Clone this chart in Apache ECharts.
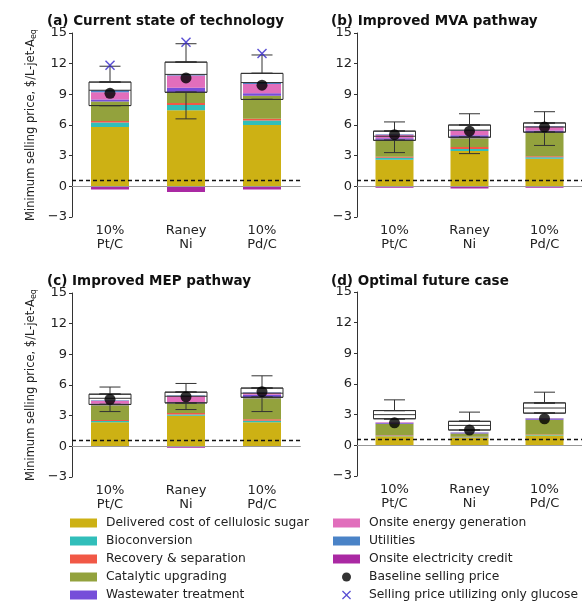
<!DOCTYPE html>
<html>
<head>
<meta charset="utf-8">
<script src="https://cdn.jsdelivr.net/npm/echarts@6/dist/echarts.min.js"></script>
<style>
html, body { margin: 0; padding: 0; background: #fff; }
#main { width: 582px; height: 603px; }
</style>
</head>
<body>
<div id="main"></div>
<script>
var catalysts = ['10%\nPt/C', 'Raney\nNi', '10%\nPd/C'];
var panelTitles = ['(a) Current state of technology', '(b) Improved MVA pathway',
                   '(c) Improved MEP pathway', '(d) Optimal future case'];
var yTicks = [-3, 0, 3, 6, 9, 12, 15];

// cost contributions, one row per panel (a..d), columns Pt/C, Raney Ni, Pd/C
var sugar      = [[5.8, 7.45, 6.0], [2.6, 3.45, 2.7], [2.35, 3.0, 2.35], [0.9, 0.75, 0.95]];
var bioconv    = [[0.45, 0.5, 0.45], [0.2, 0.2, 0.15], [0.12, 0.12, 0.15], [0.05, 0.05, 0.05]];
var recovery   = [[0.15, 0.2, 0.15], [0.1, 0.2, 0.1], [0.1, 0.15, 0.15], [0.05, 0.05, 0.05]];
var catalytic  = [[1.9, 1.0, 2.25], [1.65, 0.85, 2.3], [1.45, 0.95, 2.05], [1.1, 0.3, 1.45]];
var wastewater = [[0.2, 0.5, 0.25], [0.15, 0.3, 0.2], [0.15, 0.1, 0.35], [0.1, 0.07, 0.1]];
var energyGen  = [[0.7, 1.2, 0.9], [0.35, 0.45, 0.4], [0.3, 0.6, 0.2], [0.05, 0.03, 0.05]];
var utilities  = [[0.2, 0.1, 0.15], [0.05, 0.05, 0.05], [0.05, 0.05, 0.05], [0.02, 0.02, 0.02]];
var elecCredit = [[-0.3, -0.55, -0.3], [-0.15, -0.22, -0.13], [-0.06, -0.15, -0.06], [-0.02, -0.02, -0.02]];

// uncertainty ranges [min, q1, median, q3, max]
var ranges = [
    [[7.9, 7.9, 9.4, 10.2, 11.75], [6.6, 9.2, 10.95, 12.15, 13.95], [8.5, 8.5, 10.15, 11.05, 12.85]],
    [[3.3, 4.5, 4.9, 5.4, 6.3], [3.2, 4.8, 5.5, 6.0, 7.1], [4.0, 5.3, 5.8, 6.2, 7.3]],
    [[3.4, 4.1, 4.7, 5.1, 5.8], [3.6, 4.25, 4.9, 5.3, 6.15], [3.4, 4.8, 5.2, 5.7, 6.9]],
    [[2.6, 2.6, 3.0, 3.4, 4.45], [1.5, 1.5, 1.95, 2.35, 3.25], [3.15, 3.15, 3.65, 4.15, 5.2]]
];
var baseline = [[9.1, 10.6, 9.9], [5.05, 5.4, 5.8], [4.6, 4.85, 5.35], [2.2, 1.5, 2.6]];
var glucoseOnly = [11.85, 14.1, 13.0];   // only panel (a)
var jetPrice = 0.6;

var components = [
    {name: 'Delivered cost of cellulosic sugar', data: sugar, color: '#c9aa00'},
    {name: 'Bioconversion', data: bioconv, color: '#1fb8b4'},
    {name: 'Recovery & separation', data: recovery, color: '#f04a36'},
    {name: 'Catalytic upgrading', data: catalytic, color: '#8a9a2c'},
    {name: 'Wastewater treatment', data: wastewater, color: '#6a3fd6'},
    {name: 'Onsite energy generation', data: energyGen, color: '#de62b6'},
    {name: 'Utilities', data: utilities, color: '#3b78c2'},
    {name: 'Onsite electricity credit', data: elecCredit, color: '#a3179b'}
];

var xMark = 'path://M1,0 L5,4 L9,0 L10,1 L6,5 L10,9 L9,10 L5,6 L1,10 L0,9 L4,5 L0,1 Z';
var font = 'DejaVu Sans';

var gridPos = [
    {left: 72, top: 33}, {left: 357, top: 33},
    {left: 72, top: 293}, {left: 357, top: 292}
];
var titlePos = [
    {left: 42, top: 9}, {left: 326, top: 9},
    {left: 42, top: 269}, {left: 326, top: 269}
];

var grids = [], xAxes = [], yAxes = [], titles = [], series = [];

for (var p = 0; p < 4; p++) {
    grids.push({left: gridPos[p].left, top: gridPos[p].top, width: 228, height: 184});
    titles.push({
        text: panelTitles[p], left: titlePos[p].left, top: titlePos[p].top,
        textStyle: {fontFamily: font, fontSize: 13.5, fontWeight: 'bold', color: '#111'}
    });
    // visible axis for the bars, then hidden copies so each box layer sits alone on its axis
    var mainX = xAxes.length;
    xAxes.push({
        type: 'category', gridIndex: p, data: catalysts,
        axisLine: {lineStyle: {color: '#333', width: 1}},
        axisTick: {alignWithLabel: true, length: 3, lineStyle: {color: '#333'}},
        axisLabel: {fontFamily: font, fontSize: 13, lineHeight: 14, color: '#222', margin: 7}
    });
    for (var h = 0; h < 4; h++) {
        xAxes.push({type: 'category', gridIndex: p, data: catalysts, show: false});
    }
    yAxes.push({
        type: 'value', gridIndex: p, min: -3, max: 15, interval: 3,
        name: (p % 2 === 0) ? 'Minimum selling price, $/L-jet-A{s|eq}' : '',
        nameLocation: 'middle', nameGap: 34,
        nameTextStyle: {fontFamily: font, fontSize: 11.5, color: '#222',
            rich: {s: {fontFamily: font, fontSize: 8, color: '#222', padding: [5, 0, 0, 0]}}},
        axisLine: {show: true, lineStyle: {color: '#333', width: 1}},
        axisTick: {show: true, length: 3, lineStyle: {color: '#333'}},
        splitLine: {show: false},
        axisLabel: {fontFamily: font, fontSize: 13, color: '#222', margin: 5,
            formatter: function (v) { return String(v).replace('-', '\u2212'); }}
    });

    components.forEach(function (c, k) {
        var s = {
            type: 'bar', name: c.name, xAxisIndex: mainX, yAxisIndex: p,
            stack: 'cost' + p, barWidth: 38, data: c.data[p],
            itemStyle: {color: c.color, opacity: 0.92}
        };
        if (k === 0) {
            s.markLine = {
                silent: true, symbol: 'none', label: {show: false},
                data: [
                    {yAxis: 0, lineStyle: {color: '#999', width: 1, type: 'solid'}},
                    {yAxis: jetPrice, lineStyle: {color: '#111', width: 1.3, type: [4, 3]}}
                ]
            };
        }
        series.push(s);
    });

    var box = [], upper = [], lower = [];
    ranges[p].forEach(function (r) {
        box.push([r[1], r[1], r[2], r[3], r[3]]);
        upper.push([r[3], r[3], r[3], r[3], r[4]]);
        lower.push([r[0], r[1], r[1], r[1], r[1]]);
    });
    var boxStyle = {color: 'rgba(255,255,255,0)', borderColor: '#333', borderWidth: 1};
    series.push({type: 'boxplot', name: 'range', xAxisIndex: mainX + 1, yAxisIndex: p, z: 3,
        boxWidth: [42, 42], data: box, itemStyle: boxStyle});
    series.push({type: 'boxplot', name: 'range', xAxisIndex: mainX + 2, yAxisIndex: p, z: 3,
        boxWidth: [21, 21], data: upper, itemStyle: boxStyle});
    series.push({type: 'boxplot', name: 'range', xAxisIndex: mainX + 3, yAxisIndex: p, z: 3,
        boxWidth: [21, 21], data: lower, itemStyle: boxStyle});

    series.push({
        type: 'scatter', name: 'Baseline selling price', xAxisIndex: mainX, yAxisIndex: p, z: 5,
        data: baseline[p], symbol: 'circle', symbolSize: 11, itemStyle: {color: '#000'}
    });
    if (p === 0) {
        series.push({
            type: 'scatter', name: 'Selling price utilizing only glucose', xAxisIndex: mainX, yAxisIndex: p, z: 5,
            data: glucoseOnly, symbol: xMark, symbolSize: 10, itemStyle: {color: '#2f22c8'}
        });
    }
}

var legendText = {fontFamily: font, fontSize: 12.3, color: '#222', padding: [0, 0, 0, 4]};
var legends = [
    {
        left: 70, top: 517, height: 86, padding: 0, orient: 'vertical',
        itemWidth: 27, itemHeight: 9, itemGap: 6,
        textStyle: legendText, selectedMode: false,
        data: components.slice(0, 5).map(function (c) { return {name: c.name, icon: 'rect'}; })
    },
    {
        left: 333, top: 517, height: 86, padding: 0, orient: 'vertical',
        itemWidth: 27, itemHeight: 9, itemGap: 6,
        textStyle: legendText, selectedMode: false,
        data: components.slice(5).map(function (c) { return {name: c.name, icon: 'rect'}; })
            .concat([{name: 'Baseline selling price', icon: 'circle'},
                     {name: 'Selling price utilizing only glucose', icon: xMark}])
    }
];

var myChart = echarts.init(document.getElementById('main'));
myChart.setOption({
    animation: false,
    backgroundColor: '#fff',
    title: titles,
    legend: legends,
    grid: grids,
    xAxis: xAxes,
    yAxis: yAxes,
    series: series
});
</script>
</body>
</html>
